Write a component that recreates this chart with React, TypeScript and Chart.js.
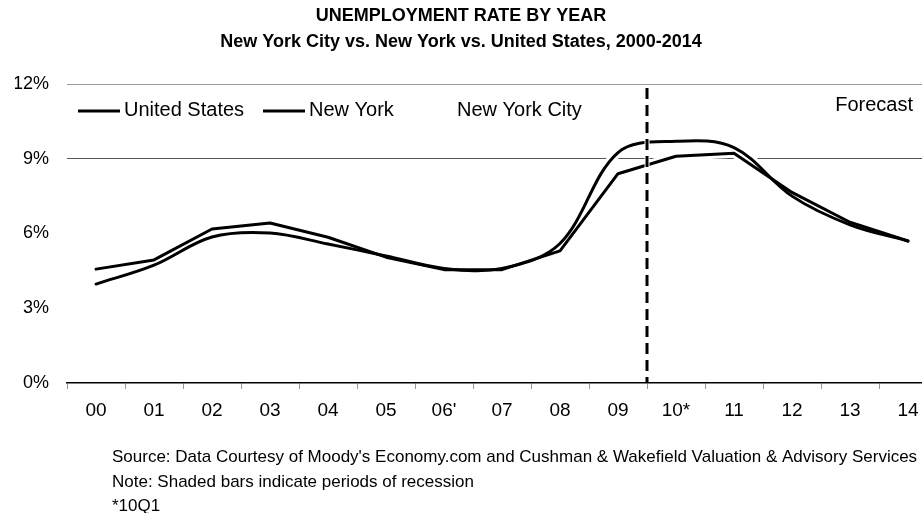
import React, { useEffect, useRef } from 'react';
import { Chart, registerables } from 'chart.js';

Chart.register(...registerables);

// ---------- data ----------
const years = ['00', '01', '02', '03', '04', '05', "06'", '07', '08', '09', '10*', '11', '12', '13', '14'];
const unitedStates = [3.97, 4.73, 5.86, 6.02, 5.58, 5.1, 4.6, 4.6, 5.6, 9.25, 9.7, 9.45, 7.5, 6.35, 5.7];
const newYork = [4.57, 4.94, 6.18, 6.42, 5.85, 5.05, 4.55, 4.55, 5.3, 8.4, 9.1, 9.22, 7.65, 6.45, 5.7];
const yTickValues = [0, 3, 6, 9, 12];
const seriesLabels = ['United States', 'New York', 'New York City'];
const titleLines = ['UNEMPLOYMENT RATE BY YEAR', 'New York City vs. New York vs. United States, 2000-2014'];
const forecastLabel = 'Forecast';
const forecastStartIndex = 10;
const footnotes = [
  "Source: Data Courtesy of Moody's Economy.com and Cushman & Wakefield Valuation & Advisory Services",
  'Note: Shaded bars indicate periods of recession',
  '*10Q1',
];

const FONT = '"Liberation Sans", Arial, Helvetica, sans-serif';

const decorPlugin = {
  id: 'decor',
  afterDatasetsDraw(chart: any) {
    const { ctx, chartArea, scales } = chart;
    const x = scales.x;
    const px = (x.getPixelForValue(forecastStartIndex - 1) + x.getPixelForValue(forecastStartIndex)) / 2;
    ctx.save();
    ctx.strokeStyle = '#ffffff';
    ctx.lineWidth = 5;
    ctx.beginPath();
    ctx.moveTo(px, chartArea.top + 4);
    ctx.lineTo(px, chartArea.bottom - 1);
    ctx.stroke();
    ctx.strokeStyle = '#000000';
    ctx.lineWidth = 3;
    ctx.setLineDash([11, 6]);
    ctx.beginPath();
    ctx.moveTo(px, chartArea.top + 4);
    ctx.lineTo(px, chartArea.bottom - 1);
    ctx.stroke();
    ctx.restore();
  },
  afterDraw(chart: any) {
    const { ctx } = chart;
    ctx.save();
    ctx.fillStyle = '#000';
    // title
    ctx.font = `bold 18px ${FONT}`;
    ctx.textAlign = 'center';
    ctx.textBaseline = 'middle';
    ctx.fillText(titleLines[0], 461, 16);
    ctx.fillText(titleLines[1], 461, 42);
    // legend
    ctx.font = `20px ${FONT}`;
    ctx.textAlign = 'left';
    ctx.strokeStyle = '#000';
    ctx.lineWidth = 3;
    const samples = [
      { x0: 78, x1: 120, tx: 124, line: true },
      { x0: 263, x1: 305, tx: 309, line: true },
      { x0: 0, x1: 0, tx: 457, line: false },
    ];
    samples.forEach((s, i) => {
      if (s.line) {
        ctx.beginPath();
        ctx.moveTo(s.x0, 111);
        ctx.lineTo(s.x1, 111);
        ctx.stroke();
      }
      ctx.fillText(seriesLabels[i], s.tx, 110);
    });
    ctx.textAlign = 'right';
    ctx.fillText(forecastLabel, 913, 105);
    // footnotes
    ctx.font = `17px ${FONT}`;
    ctx.textAlign = 'left';
    const ys = [457, 482, 506];
    footnotes.forEach((t, i) => ctx.fillText(t, 112, ys[i]));
    ctx.restore();
  },
};

export default function App() {
  const ref = useRef<HTMLCanvasElement | null>(null);

  useEffect(() => {
    if (!ref.current) return;
    const line = (data: number[], color: string, width: number, tension: number, order: number, label: string) => ({
      label,
      data,
      borderColor: color,
      backgroundColor: color,
      borderWidth: width,
      tension,
      pointRadius: 0,
      pointHoverRadius: 0,
      fill: false,
      order,
      borderCapStyle: 'round',
      borderJoinStyle: 'round',
    });
    const chart = new Chart(ref.current, {
      type: 'line',
      data: {
        labels: years,
        datasets: [
          line(unitedStates, '#000000', 3, 0.35, 1, seriesLabels[0]),
          line(newYork, '#000000', 3, 0, 1, seriesLabels[1]),
          line(unitedStates, '#ffffff', 9, 0.35, 2, 'halo-us'),
          line(newYork, '#ffffff', 9, 0, 2, 'halo-ny'),
        ] as any,
      },
      options: {
        animation: false,
        responsive: false,
        events: [],
        layout: { padding: { left: 15, right: 13, top: 84, bottom: 90 } },
        plugins: {
          legend: { display: false },
          title: { display: false },
          tooltip: { enabled: false },
        },
        scales: {
          x: {
            type: 'category',
            offset: true,
            grid: {
              offset: true,
              drawOnChartArea: false,
              drawTicks: true,
              tickLength: 6,
              color: '#999999',
              lineWidth: 1,
            },
            border: { display: true, color: '#000000', width: 1.5 },
            ticks: {
              color: '#000',
              font: { family: FONT, size: 19 },
              padding: 10,
              maxRotation: 0,
              autoSkip: false,
            },
            afterFit: (s: any) => {
              s.height = 40;
            },
          },
          y: {
            min: 0,
            max: 12,
            afterBuildTicks: (s: any) => {
              s.ticks = yTickValues.map((v) => ({ value: v }));
            },
            ticks: {
              color: '#000',
              font: { family: FONT, size: 18 },
              padding: 18,
              callback: (v: any) => `${v}%`,
            },
            grid: {
              drawTicks: false,
              color: (c: any) =>
                c.tick && c.tick.value === 12 ? '#9a9a9a' : c.tick && c.tick.value === 9 ? '#555555' : 'rgba(0,0,0,0)',
              lineWidth: 1,
            },
            border: { display: false },
            afterFit: (s: any) => {
              s.width = 52;
            },
          },
        },
      },
      plugins: [decorPlugin],
    } as any);
    return () => chart.destroy();
  }, []);

  return (
    <div style={{ position: 'fixed', left: 0, top: 0, width: 922, height: 513, overflow: 'hidden', background: '#fff' }}>
      <canvas ref={ref} width={950} height={513} style={{ display: 'block' }} />
    </div>
  );
}
